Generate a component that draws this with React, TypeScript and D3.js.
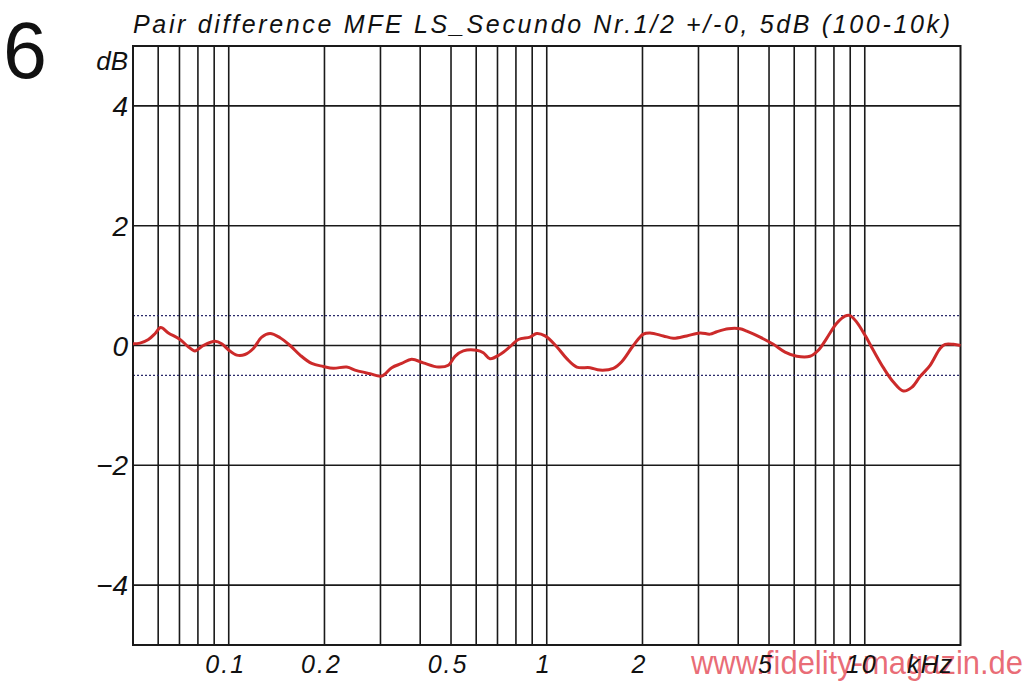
import React from "react";
import * as d3 from "d3";

const freqHz = [50, 52.6, 55.9, 58.7, 61.1, 64.6, 70.3, 74.6, 78.3, 83.2, 90.6, 95, 99.7, 106, 112.5, 119.5, 127, 134.9, 145, 155.9, 167.6, 182.3, 198.3, 213.2, 235, 252.6, 278.2, 302.8, 325.5, 349.8, 376, 409.1, 456.2, 490.3, 514.6, 546.6, 602, 631.7, 663, 713, 766.6, 813.9, 886, 930, 987.9, 1075, 1156, 1243, 1368, 1470, 1620, 1721, 1872, 2012, 2112, 2326, 2500, 2755, 3034, 3262, 3423, 3724, 4053, 4255, 4686, 5157, 5614, 6111, 6728, 7143, 7591, 8163, 8667, 8986, 9433, 10020, 10640, 11440, 12300, 13220, 14050, 14920, 16050, 17250, 17890, 18990, 20000];
const diffDb = [0.03, 0.04, 0.1, 0.2, 0.3, 0.21, 0.1, -0.02, -0.09, 0.0, 0.07, 0.03, -0.07, -0.16, -0.15, -0.05, 0.14, 0.2, 0.13, 0.0, -0.16, -0.3, -0.35, -0.38, -0.36, -0.42, -0.47, -0.51, -0.37, -0.3, -0.23, -0.29, -0.36, -0.33, -0.18, -0.09, -0.08, -0.12, -0.22, -0.15, -0.02, 0.1, 0.14, 0.2, 0.16, -0.02, -0.22, -0.36, -0.37, -0.41, -0.38, -0.27, 0.0, 0.19, 0.21, 0.16, 0.12, 0.16, 0.21, 0.19, 0.23, 0.28, 0.28, 0.24, 0.14, 0.02, -0.11, -0.18, -0.18, -0.08, 0.12, 0.37, 0.49, 0.5, 0.39, 0.17, -0.08, -0.37, -0.61, -0.76, -0.7, -0.52, -0.33, -0.05, 0.02, 0.02, 0.0];

const yTicks = [4, 2, 0, -2, -4];
const toleranceDb = [0.5, -0.5];
const xGridHz = [60, 70, 80, 90, 100, 200, 300, 400, 500, 600, 700, 800, 900, 1000, 2000, 3000, 4000, 5000, 6000, 7000, 8000, 9000, 10000];
const xLabelHz = [100, 200, 500, 1000, 2000, 5000, 10000];
const xLabelText = ["0.1", "0.2", "0.5", "1", "2", "5", "10"];

const title = "Pair difference MFE LS_Secundo Nr.1/2 +/-0, 5dB (100-10k)";

export default function App() {
  const left = 133, right = 960.5, top = 46, bottom = 645;
  const x = d3.scaleLog().domain([50, 20000]).range([left, right]);
  const y = d3.scaleLinear().domain([-5, 5]).range([bottom, top]);
  const line = d3
    .line<number>()
    .x((_, i) => x(freqHz[i]))
    .y((d) => y(d))
    .curve(d3.curveCatmullRom.alpha(0.5));
  const font = "'Liberation Sans', Arial, sans-serif";
  const gridColor = "#1a1a1a";
  return (
    <svg
      width={1024}
      height={683}
      style={{ position: "absolute", left: 0, top: 0, background: "#fff" }}
      fontFamily={font}
    >
      <rect x={0} y={0} width={1024} height={683} fill="#fff" />
      <text x={3} y={78} fontSize={79} fill="#111">6</text>
      <text x={133} y={33} fontSize={25} fontStyle="italic" fill="#111" textLength={817} lengthAdjust="spacing">
        {title}
      </text>
      <text x={128} y={70} fontSize={26} fontStyle="italic" textAnchor="end" fill="#111">dB</text>
      {xGridHz.map((f) => (
        <line key={"vx" + f} x1={x(f)} x2={x(f)} y1={top} y2={bottom} stroke={gridColor} strokeWidth={1.6} />
      ))}
      {yTicks.map((t) => (
        <line key={"hy" + t} x1={left} x2={right} y1={y(t)} y2={y(t)} stroke={gridColor} strokeWidth={1.6} />
      ))}
      {toleranceDb.map((t) => (
        <line key={"tol" + t} x1={left} x2={right} y1={y(t)} y2={y(t)} stroke="#2a2a6a" strokeWidth={1.2} strokeDasharray="2,2" />
      ))}
      <rect x={left} y={top} width={right - left} height={bottom - top} fill="none" stroke={gridColor} strokeWidth={2} />
      {yTicks.map((t) => (
        <text key={"yl" + t} x={128} y={y(t) + 10} fontSize={28} fontStyle="italic" textAnchor="end" fill="#111">
          {t < 0 ? "\u2212" + Math.abs(t) : String(t)}
        </text>
      ))}
      <path d={line(diffDb) || ""} fill="none" stroke="#cc2a2a" strokeWidth={3} strokeLinejoin="round" />
      <text x={691} y={674} fontSize={34} fill="#e5535e" fillOpacity={0.85} textLength={332} lengthAdjust="spacingAndGlyphs">
        www.fidelity-magazin.de
      </text>
      {xLabelHz.map((f, i) => (
        <text key={"xl" + f} x={x(f) - 3} y={673} fontSize={25} fontStyle="italic" textAnchor="middle" fill="#111" letterSpacing={2}>
          {xLabelText[i]}
        </text>
      ))}
      <text x={907} y={673} fontSize={25} fontStyle="italic" fill="#111" letterSpacing={1}>kHz</text>
    </svg>
  );
}
